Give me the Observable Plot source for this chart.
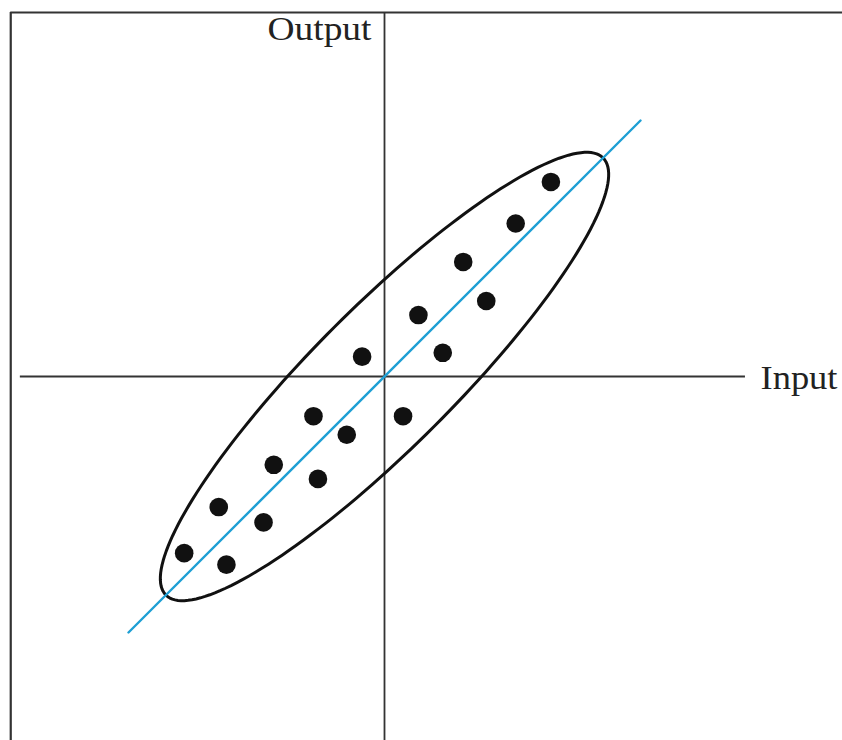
<!DOCTYPE html>
<html>
<head>
<meta charset="utf-8">
<script src="https://cdn.jsdelivr.net/npm/d3@7"></script>
<script src="https://cdn.jsdelivr.net/npm/@observablehq/plot@0.6"></script>
<style>
  html, body { margin: 0; padding: 0; background: #fff; }
  #chart svg { display: block; }
</style>
</head>
<body>
<div id="chart"></div>
<script>
// Observations (input, output) in chart units
const inputX  = [2.60, 2.05, 1.23, 1.59, 0.53, 0.91, -0.35, 0.29, -1.11, -0.59, -1.73, -1.04, -2.59, -1.89, -3.13, -2.47];
const outputY = [3.04, 2.39, 1.79, 1.18, 0.96, 0.37, 0.31, -0.62, -0.62, -0.91, -1.38, -1.60, -2.04, -2.28, -2.76, -2.94];

// Fitted line endpoints (y = x)
const fitX = [-4, 4];
const fitY = [-4, 4];

// Confidence ellipse: semi-major, semi-minor, rotation (degrees)
const ellipseAxes = [4.83, 1.10];
const ellipseAngle = [45];

// Axis labels
const axisLabels = ["Input", "Output"];

const points = inputX.map((x, i) => ({x, y: outputY[i]}));
const fitLine = fitX.map((x, i) => ({x, y: fitY[i]}));

const [ea, eb] = ellipseAxes;
const th = ellipseAngle[0] * Math.PI / 180;
const ellipse = d3.range(0, 360, 2).map(deg => {
  const t = deg * Math.PI / 180;
  const u = ea * Math.cos(t), v = eb * Math.sin(t);
  return {x: u * Math.cos(th) - v * Math.sin(th), y: u * Math.sin(th) + v * Math.cos(th)};
});

const X0 = -6, X1 = 458 / 64, Y0 = -364 / 64, Y1 = 376 / 64;
const frameLeft = -5.84, frameTop = 5.6875;
const lineColor = "#333";

const chart = Plot.plot({
  width: 842,
  height: 740,
  margin: 0,
  x: {domain: [X0, X1], axis: null},
  y: {domain: [Y0, Y1], axis: null},
  style: {background: "#fff"},
  marks: [
    // frame border (left and top)
    Plot.ruleX([frameLeft], {y1: Y0, y2: frameTop, stroke: lineColor, strokeWidth: 2.2}),
    Plot.ruleY([frameTop], {x1: frameLeft, x2: X1, stroke: lineColor, strokeWidth: 2.2}),
    // axes through origin
    Plot.ruleY([0], {x1: -5.69, x2: 5.64, stroke: lineColor, strokeWidth: 1.8}),
    Plot.ruleX([0], {y1: Y0, y2: frameTop, stroke: lineColor, strokeWidth: 1.8}),
    // ellipse
    Plot.line(ellipse, {x: "x", y: "y", curve: "linear-closed", stroke: "#111", strokeWidth: 3}),
    // fitted line
    Plot.line(fitLine, {x: "x", y: "y", stroke: "#1e9fd4", strokeWidth: 2.4}),
    // points
    Plot.dot(points, {x: "x", y: "y", r: 9.3, fill: "#111", stroke: "none"}),
    // labels
    Plot.text([axisLabels[0]], {x: (760 - 384) / 64, y: (376 - 388) / 64, text: d => d, textAnchor: "start", lineAnchor: "bottom", fontSize: 34, fontFamily: "Liberation Serif", fill: "#222", className: "lbl-input"}),
    Plot.text([axisLabels[1]], {x: (371 - 384) / 64, y: (376 - 39) / 64, text: d => d, textAnchor: "end", lineAnchor: "bottom", fontSize: 34, fontFamily: "Liberation Serif", fill: "#222", className: "lbl-output"})
  ]
});

// stretch labels to the reference's wide type
d3.select(chart).select(".lbl-input text").attr("textLength", 77).attr("lengthAdjust", "spacingAndGlyphs");
d3.select(chart).select(".lbl-output text").attr("textLength", 104).attr("lengthAdjust", "spacingAndGlyphs");

document.getElementById("chart").append(chart);
</script>
</body>
</html>
